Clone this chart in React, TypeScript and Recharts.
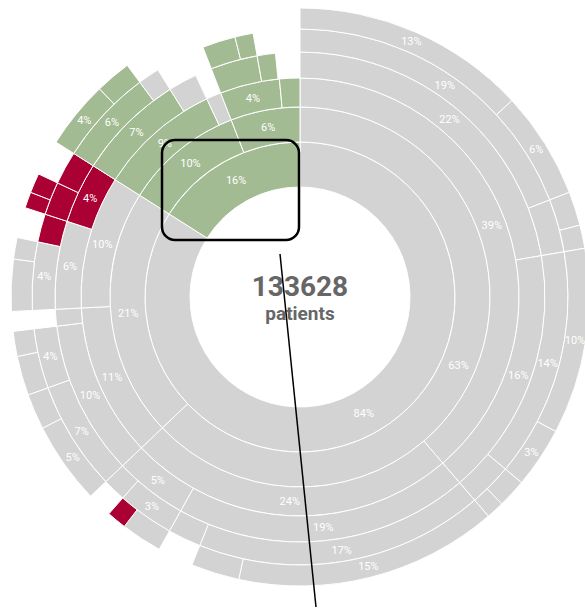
import { Cell, Pie, PieChart } from "recharts";

// share of all patients (%), clockwise from 12 o'clock; "gap" = treatment sequence ended
type Seg = { v: number; c: string };

const totalPatients = 133628;

const ring1: Seg[] = [
  { v: 84.0, c: "grey" },
  { v: 16.0, c: "green" },
];

const ring2: Seg[] = [
  { v: 62.9, c: "grey" },
  { v: 21.1, c: "grey" },
  { v: 10.1, c: "green" },
  { v: 5.9, c: "green" },
];

const ring3: Seg[] = [
  { v: 38.7, c: "grey" },
  { v: 24.2, c: "grey" },
  { v: 11.3, c: "grey" },
  { v: 9.8, c: "grey" },
  { v: 9.0, c: "green" },
  { v: 1.1, c: "grey" },
  { v: 4.4, c: "green" },
  { v: 1.5, c: "green" },
];

const ring4: Seg[] = [
  { v: 22.3, c: "grey" },
  { v: 16.4, c: "grey" },
  { v: 19.4, c: "grey" },
  { v: 4.8, c: "grey" },
  { v: 10.2, c: "grey" },
  { v: 1.1, c: "grey" },
  { v: 5.8, c: "grey" },
  { v: 4.0, c: "red" },
  { v: 7.1, c: "green" },
  { v: 1.9, c: "grey" },
  { v: 1.1, c: "gap" },
  { v: 3.1, c: "green" },
  { v: 1.2, c: "green" },
  { v: 1.6, c: "gap" },
];

const ring5: Seg[] = [
  { v: 19.1, c: "grey" },
  { v: 3.2, c: "grey" },
  { v: 13.8, c: "grey" },
  { v: 2.6, c: "grey" },
  { v: 17.4, c: "grey" },
  { v: 2.0, c: "grey" },
  { v: 3.4, c: "grey" },
  { v: 1.4, c: "grey" },
  { v: 6.6, c: "grey" },
  { v: 3.6, c: "grey" },
  { v: 1.1, c: "gap" },
  { v: 4.1, c: "grey" },
  { v: 1.7, c: "red" },
  { v: 2.0, c: "red" },
  { v: 2.0, c: "red" },
  { v: 5.8, c: "green" },
  { v: 1.3, c: "grey" },
  { v: 3.0, c: "gap" },
  { v: 2.0, c: "green" },
  { v: 1.1, c: "green" },
  { v: 2.8, c: "gap" },
];

const ring6: Seg[] = [
  { v: 13.1, c: "grey" },
  { v: 6.0, c: "grey" },
  { v: 1.9, c: "grey" },
  { v: 1.3, c: "grey" },
  { v: 10.4, c: "grey" },
  { v: 3.4, c: "grey" },
  { v: 1.6, c: "grey" },
  { v: 1.0, c: "grey" },
  { v: 14.7, c: "grey" },
  { v: 2.7, c: "grey" },
  { v: 2.0, c: "gap" },
  { v: 2.3, c: "grey" },
  { v: 1.1, c: "red" },
  { v: 1.4, c: "gap" },
  { v: 4.6, c: "grey" },
  { v: 2.0, c: "grey" },
  { v: 2.2, c: "grey" },
  { v: 1.4, c: "grey" },
  { v: 1.1, c: "gap" },
  { v: 2.9, c: "grey" },
  { v: 1.2, c: "grey" },
  { v: 1.7, c: "gap" },
  { v: 0.9, c: "red" },
  { v: 1.1, c: "red" },
  { v: 2.0, c: "gap" },
  { v: 3.8, c: "green" },
  { v: 2.0, c: "green" },
  { v: 10.2, c: "gap" },
];

const rings = [ring1, ring2, ring3, ring4, ring5, ring6];
// equal-area rings
const radii = [110, 155, 190, 219, 245, 268, 289];

const colors: Record<string, string> = {
  grey: "#d3d3d3",
  green: "#a3bb93",
  red: "#ab0033",
  gap: "none",
};

const CX = 300;
const CY = 297;
const RADIAN = Math.PI / 180;
const font = "Roboto, 'Noto Sans', sans-serif";

const renderLabel = (props: any) => {
  const { cx, cy, midAngle, innerRadius, outerRadius, value } = props;
  const c = props.payload?.c ?? props.c;
  if (c === "gap" || value < 3.3) return null;
  const r = (innerRadius + outerRadius) / 2;
  const x = cx + r * Math.cos(-midAngle * RADIAN);
  const y = cy + r * Math.sin(-midAngle * RADIAN);
  return (
    <text
      x={x}
      y={y}
      fill="#fff"
      fontSize={11}
      fontFamily={font}
      textAnchor="middle"
      dominantBaseline="central"
    >
      {Math.round(value)}%
    </text>
  );
};

export default function App() {
  return (
    <div style={{ position: "absolute", left: 0, top: 0, width: 585, height: 611, overflow: "hidden" }}>
      <PieChart width={585} height={611} margin={{ top: 0, right: 0, bottom: 0, left: 0 }}>
        {rings.map((ring, i) => (
          <Pie
            key={i}
            data={ring}
            dataKey="v"
            cx={CX}
            cy={CY}
            innerRadius={radii[i]}
            outerRadius={radii[i + 1]}
            startAngle={90}
            endAngle={-270}
            paddingAngle={0}
            label={renderLabel}
            labelLine={false}
            isAnimationActive={false}
          >
            {ring.map((s, j) => (
              <Cell
                key={j}
                fill={colors[s.c]}
                stroke={s.c === "gap" ? "none" : "#fff"}
                strokeWidth={1}
              />
            ))}
          </Pie>
        ))}
      </PieChart>
      <svg
        width={585}
        height={611}
        style={{ position: "absolute", left: 0, top: 0, pointerEvents: "none" }}
      >
        <text
          x={CX}
          y={296}
          textAnchor="middle"
          fontFamily={font}
          fontWeight="bold"
          fontSize={28}
          fill="#666"
        >
          {totalPatients}
        </text>
        <text
          x={CX}
          y={320}
          textAnchor="middle"
          fontFamily={font}
          fontWeight="bold"
          fontSize={19}
          fill="#666"
        >
          patients
        </text>
        <rect x={162} y={140} width={137} height={100} rx={13} fill="none" stroke="#000" strokeWidth={2.5} />
        <line x1={280} y1={254} x2={316} y2={607} stroke="#000" strokeWidth={1.5} />
      </svg>
    </div>
  );
}
